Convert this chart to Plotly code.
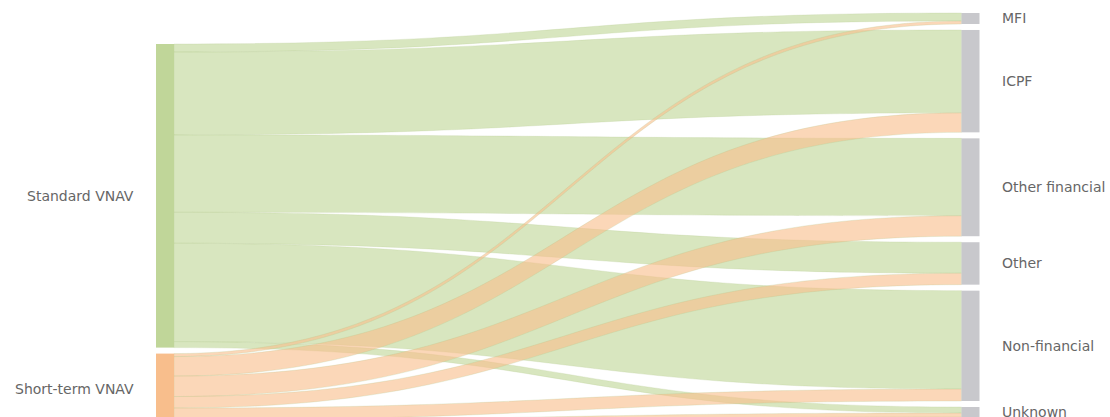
import plotly.graph_objects as go

# ---- data ----
source_labels = ["Standard VNAV", "Short-term VNAV"]
target_labels = ["MFI", "ICPF", "Other financial", "Other", "Non-financial", "Unknown"]
standard_vnav = [8, 83, 77.5, 31, 98.5, 6]
short_term_vnav = [3, 19.5, 20.5, 11.5, 12, 4]

# ---- styling / layout constants ----
W, H_FIG = 1110, 417
TOP = 13
NODE_T = 18
PAD = 6
LEFT_X_PX, RIGHT_X_PX = 165, 970.5
LEFT_TOP_OFFSET = 31
LABEL_GAP = 20
src_node_colors = ["#c0d699", "#f8be8c"]
src_link_colors = ["rgba(192,214,152,0.62)", "rgba(248,190,140,0.62)"]
link_line_color = "rgba(175,195,135,0.45)"
target_color = "#c8c8cc"
label_color = "#666666"

series = [standard_vnav, short_term_vnav]
labels = source_labels + target_labels
n_src = len(source_labels)

src, tgt, val, lcol = [], [], [], []
for i, vals in enumerate(series):
    for j, v in enumerate(vals):
        src.append(i)
        tgt.append(n_src + j)
        val.append(v)
        lcol.append(src_link_colors[i])

# node sizes, same scale rule as the sankey engine
src_tot = [sum(s) for s in series]
tgt_tot = [sum(s[j] for s in series) for j in range(len(target_labels))]
H = H_FIG - TOP
total = sum(tgt_tot)
ky = (H - (len(target_labels) - 1) * PAD) / total

centers = []
y = LEFT_TOP_OFFSET
for t in src_tot:
    h = t * ky
    centers.append(y + h / 2)
    y += h + PAD
y = 0
for t in tgt_tot:
    h = t * ky
    centers.append(y + h / 2)
    y += h + PAD

node_x = [LEFT_X_PX / W] * n_src + [RIGHT_X_PX / W] * len(target_labels)
node_y = [c / H for c in centers]

fig = go.Figure(go.Sankey(
    arrangement="fixed",
    domain=dict(x=[0, 1], y=[0, 1]),
    node=dict(
        label=labels,
        x=node_x,
        y=node_y,
        pad=PAD,
        thickness=NODE_T,
        color=src_node_colors + [target_color] * len(target_labels),
        line=dict(width=0),
    ),
    link=dict(source=src, target=tgt, value=val, color=lcol,
              line=dict(color=link_line_color, width=0.5)),
    textfont=dict(color="rgba(0,0,0,0)", size=1),
))

annotations = []
for i, name in enumerate(labels):
    is_src = i < n_src
    xpx = (LEFT_X_PX - NODE_T / 2 - LABEL_GAP) if is_src else (RIGHT_X_PX + NODE_T / 2 + LABEL_GAP)
    annotations.append(dict(
        text=name, xref="paper", yref="paper",
        x=xpx / W, y=1 - centers[i] / H,
        xanchor="right" if is_src else "left", yanchor="middle",
        showarrow=False,
        font=dict(family="DejaVu Sans", size=14, color=label_color),
    ))

fig.update_layout(
    width=W, height=H_FIG,
    margin=dict(l=0, r=0, t=TOP, b=0),
    paper_bgcolor="white", plot_bgcolor="white",
    font=dict(family="DejaVu Sans"),
    annotations=annotations,
)

fig.write_html(
    "out.html",
    config={"displayModeBar": False},
    post_script="document.body.style.margin='0';document.body.style.overflow='hidden';",
)
